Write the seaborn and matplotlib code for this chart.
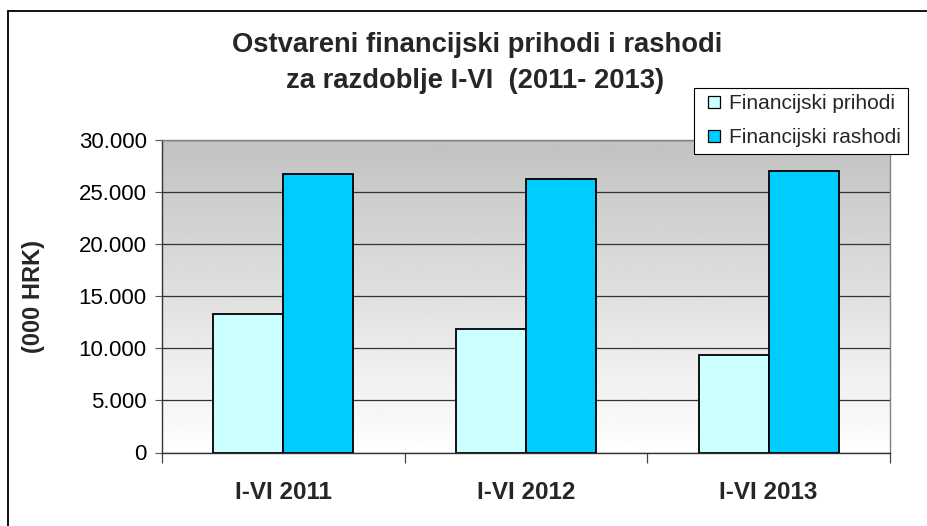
import numpy as np
import pandas as pd
import matplotlib
matplotlib.use("Agg")
import matplotlib.pyplot as plt
import seaborn as sns
from matplotlib.lines import Line2D

categories = ["I-VI 2011", "I-VI 2012", "I-VI 2013"]
series_names = ["Financijski prihodi", "Financijski rashodi"]
prihodi = [13300, 11900, 9400]
rashodi = [26700, 26300, 27000]
y_ticks = [0, 5000, 10000, 15000, 20000, 25000, 30000]
y_tick_labels = ["0", "5.000", "10.000", "15.000", "20.000", "25.000", "30.000"]
title_lines = ["Ostvareni financijski prihodi i rashodi", "za razdoblje I-VI  (2011- 2013)"]
y_label = "(000 HRK)"
colors = ["#CCFFFF", "#00CCFF"]

df = pd.DataFrame({
    "kategorija": categories * 2,
    "serija": [series_names[0]] * 3 + [series_names[1]] * 3,
    "vrijednost": prihodi + rashodi,
})

sns.set_theme(style="white")
plt.rcParams["font.family"] = ["Liberation Sans", "DejaVu Sans"]

W, H = 927, 526
fig = plt.figure(figsize=(W / 100, H / 100), dpi=100)
ax = fig.add_axes([162 / W, 1 - 452.5 / H, (890 - 162) / W, (452.5 - 140) / H])

# gradient background: darker grey at top, white at bottom
grad = np.linspace(0.76, 1.0, 256).reshape(-1, 1)
ax.imshow(grad, cmap="gray", vmin=0, vmax=1, aspect="auto", origin="upper",
          extent=[-0.5, 2.5, 0, 30000], zorder=0)

sns.barplot(data=df, x="kategorija", y="vrijednost", hue="serija",
            palette=colors, width=0.578, edgecolor="black", linewidth=1.3,
            saturation=1, ax=ax, zorder=3, legend=True)

ax.set_xlim(-0.5, 2.5)
ax.set_ylim(0, 30000)
ax.set_yticks(y_ticks)
ax.set_yticklabels(y_tick_labels, fontsize=16, color="black")
ax.yaxis.grid(True, color="#333333", linewidth=0.9)
for gl in ax.get_ygridlines():
    gl.set_zorder(1)
ax.xaxis.grid(False)

ax.tick_params(axis="y", which="major", left=True, length=5, width=0.8,
               color="#555555", pad=6)
ax.set_xticks([0, 1, 2])
ax.set_xticklabels(categories, fontsize=17.5, fontweight="bold")
ax.tick_params(axis="x", which="major", length=0, pad=20.5)
ax.set_xticks([-0.5, 0.5, 1.5, 2.5], minor=True)
ax.tick_params(axis="x", which="minor", bottom=True, length=7, width=0.9,
               color="#444444")

ax.set_xlabel("")
ax.set_ylabel(y_label, fontsize=17, fontweight="bold", labelpad=24)

for s in ["left", "bottom"]:
    ax.spines[s].set_color("#333333")
    ax.spines[s].set_linewidth(1.0)
for s in ["top", "right"]:
    ax.spines[s].set_color("#808080")
    ax.spines[s].set_linewidth(1.0)

# legend with square marker handles
ax.get_legend().remove()
handles = [Line2D([], [], linestyle="none", marker="s", markersize=8.5,
                  markerfacecolor=c, markeredgecolor="black", markeredgewidth=0.9)
           for c in colors]
leg = fig.legend(handles, series_names, loc="upper left",
                 bbox_to_anchor=(694 / W, 1 - 88 / H), fontsize=15,
                 frameon=True, fancybox=False, shadow=False, framealpha=1,
                 edgecolor="black", handlelength=1.3, handletextpad=0.1,
                 borderpad=0.3, labelspacing=0.72, borderaxespad=0)
leg.get_frame().set_linewidth(0.8)

# title
fig.text(477.5 / W, 1 - 52 / H, title_lines[0], ha="center", va="baseline",
         fontsize=19.7, fontweight="bold")
fig.text(475 / W, 1 - 88 / H, title_lines[1], ha="center", va="baseline",
         fontsize=19.7, fontweight="bold")

# chart frame (left + top)
fig.add_artist(Line2D([8 / W, 8 / W], [0, 1 - 11 / H], transform=fig.transFigure,
                      color="black", linewidth=1.3))
fig.add_artist(Line2D([8 / W, 1], [1 - 11 / H, 1 - 11 / H], transform=fig.transFigure,
                      color="black", linewidth=1.3))

fig.savefig("out.png", dpi=100)
